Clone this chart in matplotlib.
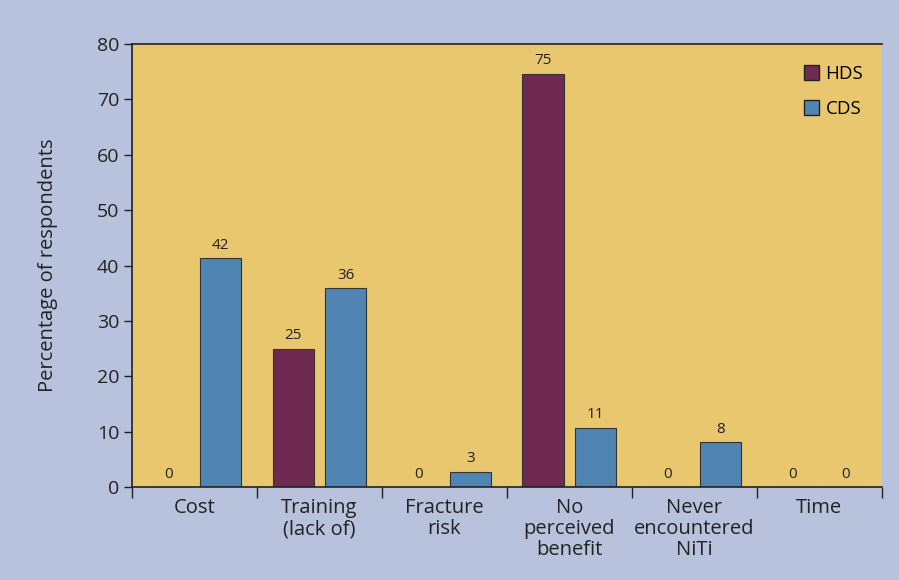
import numpy as np
import matplotlib.pyplot as plt
from matplotlib.patches import Patch

categories = ["Cost", "Training\n(lack of)", "Fracture\nrisk",
              "No\nperceived\nbenefit", "Never\nencountered\nNiTi", "Time"]
hds = [0, 25, 0, 74.6, 0, 0]
cds = [41.3, 35.9, 2.8, 10.7, 8.1, 0]
hds_labels = ["0", "25", "0", "75", "0", "0"]
cds_labels = ["42", "36", "3", "11", "8", "0"]

bg = "#b9c2dc"
panel = "#e8c76f"
c_hds = "#6f2a52"
c_cds = "#4f84b3"
ink = "#222222"

plt.rcParams["font.family"] = ["Open Sans", "DejaVu Sans"]

fig = plt.figure(figsize=(8.99, 5.80), dpi=100, facecolor=bg)
ax = fig.add_axes([0.1468, 0.160, 0.834, 0.764])
ax.set_facecolor(panel)

x = np.arange(len(categories)) + 0.5
w = 0.33
off = 0.21
ax.bar(x - off, hds, w, color=c_hds, edgecolor="#333333", linewidth=0.8)
ax.bar(x + off, cds, w, color=c_cds, edgecolor="#333333", linewidth=0.8)

for xi, v, s in zip(x - off, hds, hds_labels):
    ax.text(xi, v + 1.0, s, ha="center", va="bottom", fontsize=11, color=ink)
for xi, v, s in zip(x + off, cds, cds_labels):
    ax.text(xi, v + 1.0, s, ha="center", va="bottom", fontsize=11, color=ink)

ax.set_xlim(0, len(categories))
ax.set_ylim(0, 80)
ax.set_yticks(np.arange(0, 81, 10))
ax.tick_params(axis="y", labelsize=14, length=6, width=1, color=ink,
               labelcolor=ink, pad=3)

ax.set_xticks(np.arange(len(categories) + 1))
ax.set_xticklabels([])
ax.set_xticks(x, minor=True)
ax.set_xticklabels(categories, minor=True, fontsize=14.5, color=ink,
                   linespacing=1.07, va="top")
ax.tick_params(axis="x", which="major", length=8, width=1, color=ink)
ax.tick_params(axis="x", which="minor", length=0, pad=8)

for side in ["left", "bottom", "top"]:
    ax.spines[side].set_color(ink)
    ax.spines[side].set_linewidth(1.2)
ax.spines["right"].set_visible(False)

ax.set_ylabel("Percentage of respondents", fontsize=14.5, color=ink, labelpad=28)

handles = [Patch(facecolor=c_hds, edgecolor=ink, label="HDS"),
           Patch(facecolor=c_cds, edgecolor=ink, label="CDS")]
fig.legend(handles=handles, loc="upper left", frameon=False, fontsize=13.5,
           handlelength=0.8, handleheight=0.8, labelspacing=0.9,
           handletextpad=0.35, borderpad=0, borderaxespad=0,
           bbox_to_anchor=(804 / 899, 1 - 65 / 580))

fig.savefig("out.png", dpi=100, facecolor=bg)
